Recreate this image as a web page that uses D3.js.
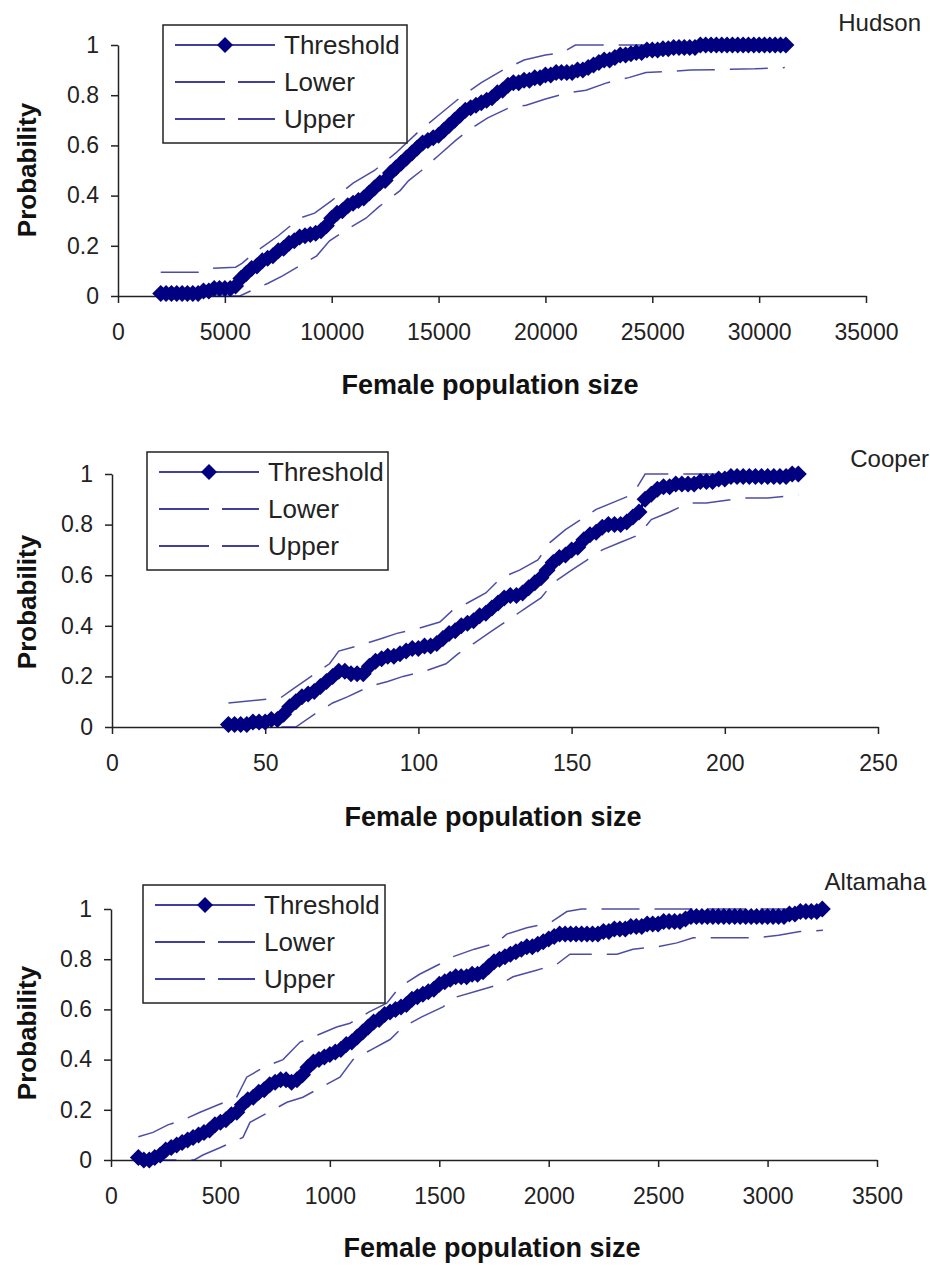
<!DOCTYPE html>
<html>
<head>
<meta charset="utf-8">
<script src="https://cdn.jsdelivr.net/npm/d3@7"></script>
<style>
  body { margin: 0; background: #fff; }
  svg { display: block; font-family: "Liberation Sans", Arial, sans-serif; }
</style>
</head>
<body>
<div id="chart"></div>
<script>
// ---- data ----
const probTicks = [0, 0.2, 0.4, 0.6, 0.8, 1];
const legendLabels = ["Threshold", "Lower", "Upper"];

// Hudson
const hudsonTicks = [0, 5000, 10000, 15000, 20000, 25000, 30000, 35000];
const hudsonThreshold = [
  [2000,.01],[2250,.01],[2500,.01],[2750,.01],[3000,.01],[3250,.01],[3500,.01],[3750,.01],
  [4000,.02],[4250,.02],[4500,.03],[4750,.03],[5000,.03],[5250,.03],[5500,.04],[5750,.07],
  [6000,.09],[6250,.11],[6500,.12],[6750,.14],[7000,.15],[7250,.16],[7500,.18],[7750,.19],
  [8000,.21],[8250,.22],[8500,.235],[8750,.24],[9000,.245],[9250,.25],[9500,.26],[9750,.28],
  [10000,.31],[10250,.33],[10500,.34],[10750,.36],[11000,.37],[11250,.38],[11500,.39],[11750,.41],
  [12000,.43],[12250,.45],[12500,.46],[12750,.49],[13000,.51],[13250,.53],[13500,.55],[13750,.57],
  [14000,.59],[14250,.61],[14500,.62],[14750,.63],[15000,.64],[15250,.66],[15500,.68],[15750,.70],
  [16000,.72],[16250,.74],[16500,.75],[16750,.76],[17000,.77],[17250,.78],[17500,.79],[17750,.81],
  [18000,.82],[18250,.84],[18500,.85],[18750,.85],[19000,.86],[19250,.86],[19500,.87],[19750,.87],
  [20000,.88],[20250,.88],[20500,.89],[20750,.89],[21000,.89],[21250,.89],[21500,.90],[21750,.90],
  [22000,.91],[22250,.92],[22500,.93],[22750,.94],[23000,.94],[23250,.95],[23500,.96],[23750,.96],
  [24000,.965],[24250,.97],[24500,.97],[24750,.98],[25000,.98],[25250,.98],[25500,.985],[25750,.985],
  [26000,.99],[26250,.99],[26500,.99],[26750,.99],[27000,.99],[27250,1],[27500,1],[27750,1],
  [28000,1],[28250,1],[28500,1],[28750,1],[29000,1],[29250,1],[29500,1],[29750,1],
  [30000,1],[30250,1],[30500,1],[30750,1],[31000,1],[31250,1]
];
const hudsonLower = [
  [2000,0],[5700,0],[6200,.02],[7000,.05],[7700,.08],[8500,.12],[9300,.16],[9900,.22],
  [10800,.27],[11600,.31],[12200,.355],[13200,.42],[13600,.46],[14200,.50],[15000,.56],[15800,.62],
  [16400,.66],[17300,.71],[18300,.75],[19100,.76],[20000,.785],[21100,.81],[21900,.82],[22900,.85],
  [23900,.87],[24700,.89],[26800,.90],[29800,.905],[31200,.91]
];
const hudsonUpper = [
  [2000,.095],[3800,.095],[4300,.11],[5500,.115],[5800,.13],[6500,.18],[7500,.24],[8500,.31],
  [9200,.33],[10000,.38],[11000,.45],[12000,.50],[13000,.57],[14000,.65],[15000,.72],[16000,.79],
  [17000,.85],[18000,.90],[19000,.94],[20000,.96],[20800,.97],[21400,1],[31200,1]
];

// Cooper
const cooperTicks = [0, 50, 100, 150, 200, 250];
const cooperThreshold = [
  [38,.01],[40,.01],[42,.01],[44,.01],[46,.02],[48,.02],[50,.02],[52,.03],[54,.03],[56,.05],
  [58,.08],[60,.10],[62,.12],[64,.13],[66,.14],[68,.16],[70,.18],[72,.20],[74,.22],[76,.22],
  [78,.21],[80,.21],[82,.21],[84,.24],[86,.26],[88,.27],[90,.28],[92,.28],[94,.29],[96,.30],
  [98,.31],[100,.31],[102,.32],[104,.32],[106,.33],[108,.35],[110,.37],[112,.38],[114,.40],[116,.41],
  [118,.42],[120,.44],[122,.45],[124,.47],[126,.49],[128,.51],[130,.52],[132,.52],[134,.53],[136,.55],
  [138,.57],[140,.59],[142,.62],[144,.65],[146,.67],[148,.68],[150,.70],[152,.71],[154,.74],[156,.76],
  [158,.77],[160,.79],[162,.80],[164,.80],[166,.80],[168,.81],[170,.83],[172,.85],[174,.90],[176,.92],
  [178,.94],[180,.95],[182,.95],[184,.96],[186,.96],[188,.96],[190,.96],[192,.97],[194,.97],[196,.97],
  [198,.98],[200,.98],[202,.99],[204,.99],[206,.99],[208,.99],[210,.99],[212,.99],[214,.99],[216,.99],
  [218,.99],[220,.99],[222,1],[224,1]
];
const cooperLower = [
  [38,0],[60,0],[66,.05],[72,.095],[77,.12],[84,.16],[90,.18],[95,.20],[102,.22],[109,.25],
  [113,.29],[118,.33],[124,.38],[129,.42],[135,.47],[140,.51],[144,.57],[150,.62],[155,.66],[160,.70],
  [166,.73],[172,.76],[176,.82],[182,.85],[188,.885],[194,.885],[200,.895],[206,.905],[214,.905],[224,.917]
];
const cooperUpper = [
  [38,.095],[55,.115],[59,.15],[65,.20],[71,.25],[74,.30],[80,.32],[88,.35],[93,.37],[100,.39],
  [107,.415],[111,.46],[116,.49],[122,.53],[127,.59],[133,.62],[139,.66],[143,.73],[148,.78],[153,.82],
  [158,.86],[164,.89],[170,.92],[174,1],[224,1]
];

// Altamaha
const altamahaTicks = [0, 500, 1000, 1500, 2000, 2500, 3000, 3500];
const altamahaThreshold = [
  [125,.01],[150,0],[175,0],[200,.01],[225,.02],[250,.04],[275,.05],[300,.06],[325,.07],[350,.08],
  [375,.09],[400,.10],[425,.11],[450,.12],[475,.14],[500,.15],[525,.16],[550,.18],[575,.19],[600,.22],
  [625,.24],[650,.25],[675,.27],[700,.28],[725,.30],[750,.31],[775,.32],[800,.32],[825,.31],[850,.32],
  [875,.34],[900,.37],[925,.39],[950,.40],[975,.41],[1000,.42],[1025,.43],[1050,.44],[1075,.46],[1100,.47],
  [1125,.49],[1150,.51],[1175,.53],[1200,.55],[1225,.56],[1250,.58],[1275,.59],[1300,.60],[1325,.61],[1350,.62],
  [1375,.64],[1400,.65],[1425,.66],[1450,.67],[1475,.68],[1500,.70],[1525,.71],[1550,.72],[1575,.73],[1600,.73],
  [1625,.73],[1650,.74],[1675,.74],[1700,.75],[1725,.77],[1750,.79],[1775,.80],[1800,.81],[1825,.82],[1850,.83],
  [1875,.84],[1900,.85],[1925,.85],[1950,.86],[1975,.87],[2000,.88],[2025,.89],[2050,.90],[2075,.90],[2100,.90],
  [2125,.90],[2150,.90],[2175,.90],[2200,.90],[2225,.90],[2250,.91],[2275,.91],[2300,.92],[2325,.92],[2350,.92],
  [2375,.93],[2400,.93],[2425,.93],[2450,.94],[2475,.94],[2500,.94],[2525,.95],[2550,.95],[2575,.95],[2600,.95],
  [2625,.96],[2650,.97],[2675,.97],[2700,.97],[2725,.97],[2750,.97],[2775,.97],[2800,.97],[2825,.97],[2850,.97],
  [2875,.97],[2900,.97],[2925,.97],[2950,.97],[2975,.97],[3000,.97],[3025,.97],[3050,.97],[3075,.97],[3100,.98],
  [3125,.98],[3150,.99],[3175,.99],[3200,.99],[3225,.99],[3250,1]
];
const altamahaLower = [
  [125,0],[380,0],[420,.02],[500,.05],[603,.09],[635,.15],[720,.19],[804,.23],[877,.25],[960,.29],
  [1046,.33],[1106,.40],[1190,.44],[1275,.48],[1334,.53],[1420,.57],[1517,.61],[1580,.65],[1680,.675],[1777,.70],
  [1837,.73],[1940,.755],[2037,.78],[2097,.82],[2312,.82],[2385,.84],[2500,.85],[2586,.865],[2660,.885],[2952,.885],
  [3050,.895],[3148,.91],[3253,.915]
];
const altamahaUpper = [
  [125,.093],[192,.11],[260,.14],[330,.16],[407,.19],[490,.22],[574,.25],[620,.33],[700,.37],[786,.40],
  [864,.47],[950,.50],[1031,.53],[1092,.545],[1180,.59],[1260,.625],[1320,.69],[1410,.74],[1500,.78],[1563,.81],
  [1660,.84],[1763,.865],[1808,.90],[1900,.925],[2006,.945],[2083,.99],[2150,1],[3250,1]
];

// ---- layout ----
const W = 930, H = 1266;
const navy = "#000080";
const ink = "#222";

const panels = [
  { name: "Hudson", xMax: 35000, ticks: hudsonTicks, thr: hudsonThreshold, lo: hudsonLower, up: hudsonUpper,
    xr: [118, 866], yr: [296, 45], nameXY: [921, 31], legend: [163, 25, 244, 118], xTitleY: 394, yTitleY: 170 },
  { name: "Cooper", xMax: 250, ticks: cooperTicks, thr: cooperThreshold, lo: cooperLower, up: cooperUpper,
    xr: [112, 878], yr: [727, 474], nameXY: [929, 467], legend: [147, 452, 241, 118], xTitleY: 826, yTitleY: 602 },
  { name: "Altamaha", xMax: 3500, ticks: altamahaTicks, thr: altamahaThreshold, lo: altamahaLower, up: altamahaUpper,
    xr: [111, 877], yr: [1160, 909], nameXY: [926, 890], legend: [143, 885, 242, 118], xTitleY: 1257, yTitleY: 1033 }
];

const svg = d3.select("#chart").append("svg")
  .attr("width", W)
  .attr("height", H);

const diamond = r => `M0,${-r}L${r},0L0,${r}L${-r},0Z`;

function drawPanel(p) {
  const g = svg.append("g");
  const x = d3.scaleLinear().domain([0, p.xMax]).range(p.xr);
  const y = d3.scaleLinear().domain([0, 1]).range(p.yr);

  const xAxis = g.append("g")
    .attr("transform", `translate(0,${y(0)})`)
    .call(d3.axisBottom(x).tickValues(p.ticks).tickFormat(d3.format("d"))
      .tickSize(7).tickSizeOuter(0).tickPadding(21));
  const yAxis = g.append("g")
    .attr("transform", `translate(${x(0)},0)`)
    .call(d3.axisLeft(y).tickValues(probTicks).tickFormat(d3.format(""))
      .tickSize(7).tickSizeOuter(0).tickPadding(12));

  [xAxis, yAxis].forEach(a => {
    a.select(".domain").attr("stroke", ink).attr("stroke-width", 1.5);
    a.selectAll(".tick line").attr("stroke", ink).attr("stroke-width", 1.5);
    a.selectAll(".tick text").attr("fill", ink)
      .style("font-size", "23px").style("font-family", "Liberation Sans, Arial, sans-serif");
  });

  const line = d3.line().x(d => x(d[0])).y(d => y(d[1]));

  // confidence bounds
  [p.lo, p.up].forEach(series => {
    g.append("path")
      .datum(series)
      .attr("d", line)
      .attr("fill", "none")
      .attr("stroke", navy)
      .attr("stroke-opacity", 0.7)
      .attr("stroke-width", 1.5)
      .attr("stroke-dasharray", "38,15");
  });

  // threshold curve + markers
  g.append("path")
    .datum(p.thr)
    .attr("d", line)
    .attr("fill", "none")
    .attr("stroke", navy)
    .attr("stroke-width", 3);

  g.selectAll("path.mk")
    .data(p.thr)
    .join("path")
    .attr("class", "mk")
    .attr("d", diamond(8.5))
    .attr("transform", d => `translate(${x(d[0])},${y(d[1])})`)
    .attr("fill", navy);

  // titles
  g.append("text")
    .attr("x", (p.xr[0] + p.xr[1]) / 2 - 2)
    .attr("y", p.xTitleY)
    .attr("text-anchor", "middle")
    .attr("font-weight", "bold")
    .attr("font-size", 27)
    .attr("fill", "#111")
    .text("Female population size");

  g.append("text")
    .attr("transform", `translate(36,${p.yTitleY}) rotate(-90)`)
    .attr("text-anchor", "middle")
    .attr("font-weight", "bold")
    .attr("font-size", 26)
    .attr("fill", "#111")
    .text("Probability");

  g.append("text")
    .attr("x", p.nameXY[0])
    .attr("y", p.nameXY[1])
    .attr("text-anchor", "end")
    .attr("font-size", 24)
    .attr("fill", ink)
    .text(p.name);

  // legend
  const [lx, ly, lw, lh] = p.legend;
  const leg = g.append("g").attr("transform", `translate(${lx},${ly})`);
  leg.append("rect")
    .attr("width", lw).attr("height", lh)
    .attr("fill", "#fff").attr("stroke", ink).attr("stroke-width", 1.5);

  legendLabels.forEach((lab, i) => {
    const cy = 20 + i * 37;
    leg.append("line")
      .attr("x1", 12).attr("x2", 112)
      .attr("y1", cy).attr("y2", cy)
      .attr("stroke", navy).attr("stroke-width", 1.6)
      .attr("stroke-dasharray", i === 0 ? null : "50,13");
    if (i === 0) {
      leg.append("path")
        .attr("d", diamond(8))
        .attr("transform", `translate(62,${cy})`)
        .attr("fill", navy);
    }
    leg.append("text")
      .attr("x", 121).attr("y", cy + 9)
      .attr("font-size", 26)
      .attr("fill", ink)
      .text(lab);
  });
}

panels.forEach(drawPanel);
</script>
</body>
</html>
